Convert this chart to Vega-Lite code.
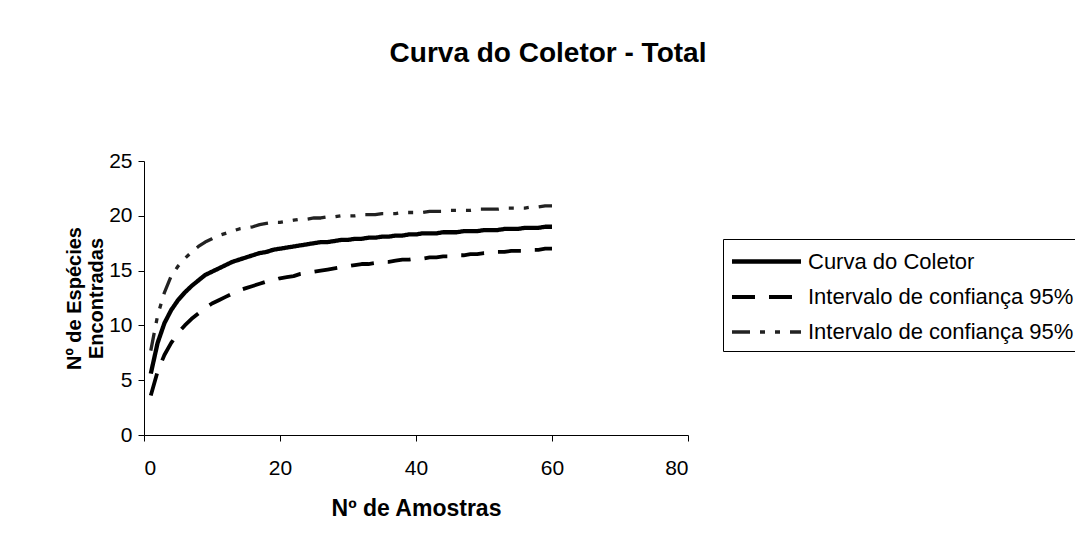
{
  "$schema": "https://vega.github.io/schema/vega-lite/v6.json",
  "width": 544,
  "height": 274,
  "autosize": "none",
  "padding": {"left": 144, "top": 161, "right": 387, "bottom": 108},
  "background": "white",
  "config": {
    "font": "Liberation Sans",
    "view": {"stroke": null},
    "axis": {"grid": false, "domainColor": "black", "tickColor": "black", "labelColor": "black", "titleColor": "black", "labelFontSize": 21, "titleFontWeight": "bold", "tickSize": 6, "domainWidth": 1, "tickWidth": 1, "labelFont": "Liberation Sans", "titleFont": "Liberation Sans"},
    "legend": {"orient": "none", "legendX": 579, "legendY": 78, "strokeColor": "black", "fillColor": "white", "padding": 8, "symbolType": "M-1.125,0H4.625", "symbolSize": 576, "labelFontSize": 22, "labelFont": "Liberation Sans", "labelColor": "black", "labelOffset": 48, "rowPadding": 10, "labelLimit": 400}
  },
  "title": {"text": "Curva do Coletor - Total", "fontSize": 28, "fontWeight": "bold", "font": "Liberation Sans", "color": "black", "anchor": "middle", "frame": "group", "dx": 132, "offset": 82},
  "data": {"values": [
    {"n":1,"curva":5.6,"inf":3.6,"sup":7.7},
    {"n":2,"curva":8.4,"inf":5.8,"sup":10.9},
    {"n":3,"curva":10.2,"inf":7.3,"sup":13.0},
    {"n":4,"curva":11.4,"inf":8.4,"sup":14.5},
    {"n":5,"curva":12.3,"inf":9.3,"sup":15.4},
    {"n":6,"curva":13.0,"inf":10.0,"sup":16.1},
    {"n":7,"curva":13.6,"inf":10.6,"sup":16.7},
    {"n":8,"curva":14.1,"inf":11.1,"sup":17.2},
    {"n":9,"curva":14.6,"inf":11.6,"sup":17.6},
    {"n":10,"curva":14.9,"inf":12.0,"sup":17.9},
    {"n":11,"curva":15.2,"inf":12.3,"sup":18.2},
    {"n":12,"curva":15.5,"inf":12.6,"sup":18.4},
    {"n":13,"curva":15.8,"inf":12.9,"sup":18.6},
    {"n":14,"curva":16.0,"inf":13.2,"sup":18.8},
    {"n":15,"curva":16.2,"inf":13.4,"sup":18.9},
    {"n":16,"curva":16.4,"inf":13.6,"sup":19.0},
    {"n":17,"curva":16.6,"inf":13.8,"sup":19.2},
    {"n":18,"curva":16.7,"inf":14.0,"sup":19.3},
    {"n":19,"curva":16.9,"inf":14.1,"sup":19.4},
    {"n":20,"curva":17.0,"inf":14.3,"sup":19.4},
    {"n":21,"curva":17.1,"inf":14.4,"sup":19.5},
    {"n":22,"curva":17.2,"inf":14.5,"sup":19.6},
    {"n":23,"curva":17.3,"inf":14.7,"sup":19.7},
    {"n":24,"curva":17.4,"inf":14.8,"sup":19.7},
    {"n":25,"curva":17.5,"inf":14.9,"sup":19.8},
    {"n":26,"curva":17.6,"inf":15.0,"sup":19.8},
    {"n":27,"curva":17.6,"inf":15.1,"sup":19.9},
    {"n":28,"curva":17.7,"inf":15.2,"sup":19.9},
    {"n":29,"curva":17.8,"inf":15.3,"sup":20.0},
    {"n":30,"curva":17.8,"inf":15.4,"sup":20.0},
    {"n":31,"curva":17.9,"inf":15.5,"sup":20.0},
    {"n":32,"curva":17.9,"inf":15.6,"sup":20.1},
    {"n":33,"curva":18.0,"inf":15.6,"sup":20.1},
    {"n":34,"curva":18.0,"inf":15.7,"sup":20.1},
    {"n":35,"curva":18.1,"inf":15.8,"sup":20.2},
    {"n":36,"curva":18.1,"inf":15.8,"sup":20.2},
    {"n":37,"curva":18.2,"inf":15.9,"sup":20.2},
    {"n":38,"curva":18.2,"inf":16.0,"sup":20.3},
    {"n":39,"curva":18.3,"inf":16.0,"sup":20.3},
    {"n":40,"curva":18.3,"inf":16.1,"sup":20.3},
    {"n":41,"curva":18.4,"inf":16.1,"sup":20.3},
    {"n":42,"curva":18.4,"inf":16.2,"sup":20.4},
    {"n":43,"curva":18.4,"inf":16.2,"sup":20.4},
    {"n":44,"curva":18.5,"inf":16.3,"sup":20.4},
    {"n":45,"curva":18.5,"inf":16.3,"sup":20.5},
    {"n":46,"curva":18.5,"inf":16.4,"sup":20.5},
    {"n":47,"curva":18.6,"inf":16.4,"sup":20.5},
    {"n":48,"curva":18.6,"inf":16.5,"sup":20.5},
    {"n":49,"curva":18.6,"inf":16.5,"sup":20.6},
    {"n":50,"curva":18.7,"inf":16.6,"sup":20.6},
    {"n":51,"curva":18.7,"inf":16.6,"sup":20.6},
    {"n":52,"curva":18.7,"inf":16.7,"sup":20.6},
    {"n":53,"curva":18.8,"inf":16.7,"sup":20.7},
    {"n":54,"curva":18.8,"inf":16.8,"sup":20.7},
    {"n":55,"curva":18.8,"inf":16.8,"sup":20.7},
    {"n":56,"curva":18.9,"inf":16.8,"sup":20.7},
    {"n":57,"curva":18.9,"inf":16.9,"sup":20.8},
    {"n":58,"curva":18.9,"inf":16.9,"sup":20.8},
    {"n":59,"curva":19.0,"inf":17.0,"sup":20.9},
    {"n":60,"curva":19.0,"inf":17.0,"sup":20.9}
  ]},
  "transform": [{"fold": ["curva", "inf", "sup"], "as": ["serie", "valor"]}],
  "mark": {"type": "line", "strokeCap": "butt", "strokeJoin": "round"},
  "encoding": {
    "x": {"field": "n", "type": "quantitative", "scale": {"domain": [0, 80], "nice": false}, "axis": {"values": [0, 20, 40, 60, 80], "title": "Nº de Amostras", "titleFontSize": 23, "labelPadding": 16, "titlePadding": 19}},
    "y": {"field": "valor", "type": "quantitative", "scale": {"domain": [0, 25], "nice": false}, "axis": {"values": [0, 5, 10, 15, 20, 25], "title": ["Nº de Espécies", "Encontradas"], "titleFontSize": 20, "labelPadding": 6, "titlePadding": 2}},
    "color": {"field": "serie", "type": "nominal", "scale": {"domain": ["curva", "inf", "sup"], "range": ["black", "black", "#222222"]}, "legend": {"title": null, "labelExpr": "datum.value == 'curva' ? 'Curva do Coletor' : 'Intervalo de confiança 95%'"}},
    "strokeDash": {"field": "serie", "type": "nominal", "scale": {"domain": ["curva", "inf", "sup"], "range": [[1, 0], [23, 14], [18, 10, 5, 10, 5, 10]]}, "legend": {"title": null, "labelExpr": "datum.value == 'curva' ? 'Curva do Coletor' : 'Intervalo de confiança 95%'"}},
    "strokeWidth": {"field": "serie", "type": "ordinal", "scale": {"domain": ["curva", "inf", "sup"], "range": [4.3, 3.3, 1]}, "legend": {"title": null, "labelExpr": "datum.value == 'curva' ? 'Curva do Coletor' : 'Intervalo de confiança 95%'"}}
  }
}
